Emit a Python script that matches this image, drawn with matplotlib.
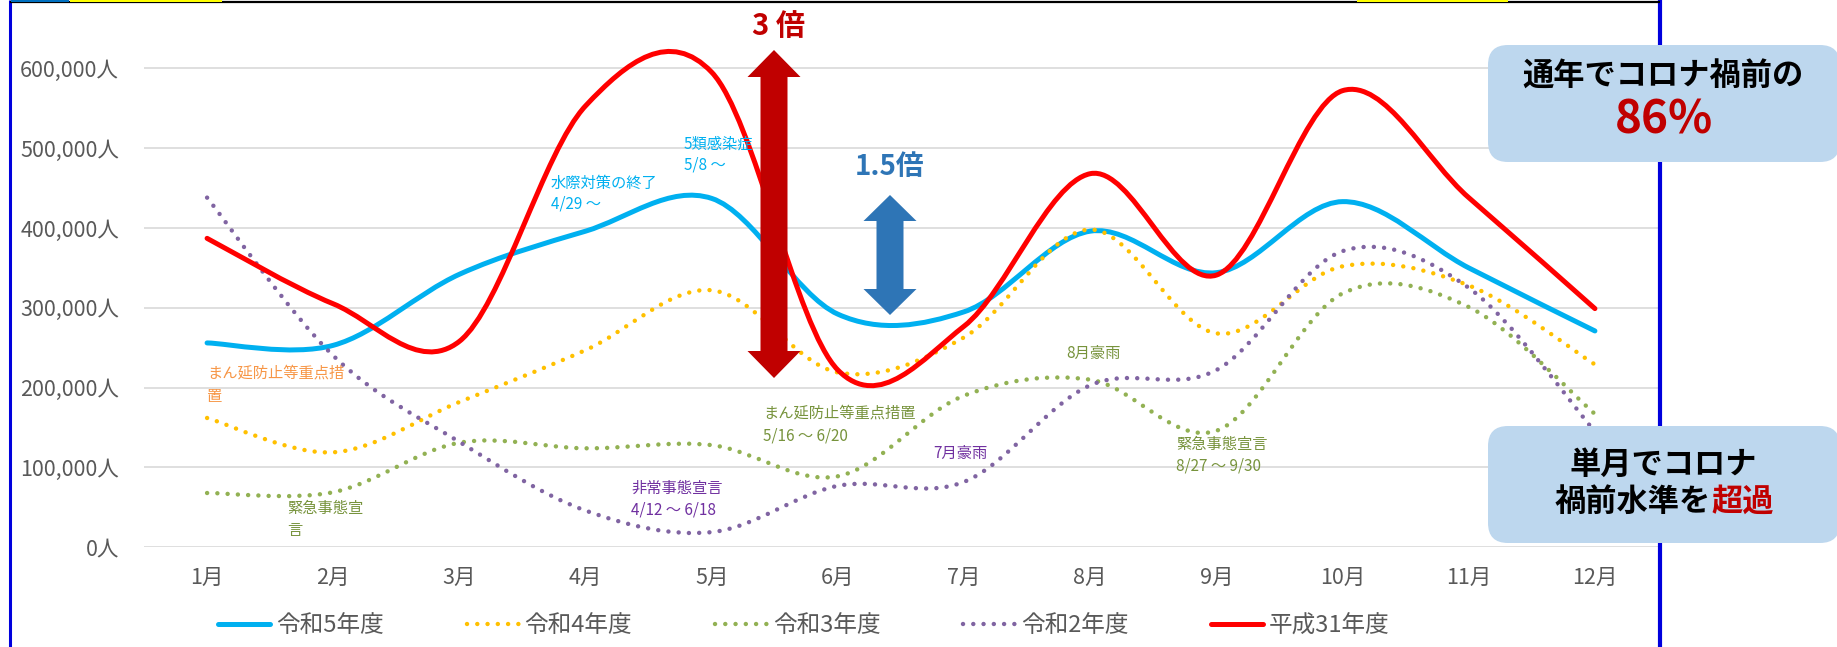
import matplotlib
matplotlib.use("Agg")
import matplotlib.pyplot as plt
import numpy as np
from matplotlib.path import Path
from matplotlib.patches import PathPatch, Polygon, FancyBboxPatch, Rectangle
from matplotlib.lines import Line2D

plt.rcParams['font.family'] = ['Noto Sans CJK JP', 'DejaVu Sans']

W, H = 1837, 647

months = ['1月', '2月', '3月', '4月', '5月', '6月', '7月', '8月', '9月', '10月', '11月', '12月']
yticks = [0, 100000, 200000, 300000, 400000, 500000, 600000]
ytick_labels = ['0人', '100,000人', '200,000人', '300,000人', '400,000人', '500,000人', '600,000人']

# monthly visitors per fiscal year
r5 = [256000, 253000, 342000, 396000, 437000, 292000, 295000, 396000, 344000, 433000, 350000, 271000]
r4 = [162000, 119000, 182000, 247000, 322000, 219000, 263000, 398000, 268000, 352000, 328000, 229000]
r3 = [68000, 69000, 131000, 124000, 128000, 89000, 190000, 210000, 146000, 318000, 301000, 167000]
r2 = [438000, 240000, 132000, 46000, 19000, 77000, 82000, 203000, 222000, 371000, 325000, 145000]
h31 = [387000, 305000, 258000, 553000, 595000, 222000, 277000, 468000, 341000, 572000, 438000, 299000]

names = ['令和5年度', '令和4年度', '令和3年度', '令和2年度', '平成31年度']
values = [r5, r4, r3, r2, h31]
colors = ['#00B0F0', '#FFC000', '#92B153', '#8064A2', '#FF0000']
dotted = [False, True, True, True, False]

GRAY = '#595959'
DOTS = (0, (0.01, 2.3))


def smooth_path(vals):
    # excel-like smoothed line: catmull-rom segments as cubic beziers
    pts = np.column_stack([np.arange(len(vals)), vals]).astype(float)
    n = len(pts)
    verts = [pts[0]]
    codes = [Path.MOVETO]
    for i in range(n - 1):
        p0 = pts[max(i - 1, 0)]
        p1 = pts[i]
        p2 = pts[i + 1]
        p3 = pts[min(i + 2, n - 1)]
        c1 = p1 + (p2 - p0) / 6
        c2 = p2 - (p3 - p1) / 6
        verts += [c1, c2, p2]
        codes += [Path.CURVE4] * 3
    return Path(np.array(verts), codes)


fig = plt.figure(figsize=(W / 100, H / 100), dpi=100)
y0, y600 = 547.3, 68.3
ppu = (y0 - y600) / 600000
ytop = y0 - 650000 * ppu
ax = fig.add_axes([144 / W, (H - y0) / H, (1658 - 144) / W, (y0 - ytop) / H])
ax.set_xlim(-0.5, 11.5)
ax.set_ylim(0, 650000)
for s in ax.spines.values():
    s.set_visible(False)
ax.set_yticks(yticks, ytick_labels)
ax.set_xticks(range(12), months)
ax.tick_params(length=0, labelcolor=GRAY, labelsize=15.5)
ax.tick_params(axis='y', pad=18)
ax.tick_params(axis='x', pad=14)
ax.yaxis.grid(True, color='#D9D9D9', linewidth=1.2)
ax.set_axisbelow(True)

handles = []
for k, (vals, c, dot) in enumerate(zip(values, colors, dotted)):
    ls = DOTS if dot else '-'
    lw = 3.2 if dot else 3.6
    patch = PathPatch(smooth_path(vals), fill=False, edgecolor=c, linewidth=lw,
                      linestyle=ls, capstyle='round', joinstyle='round', zorder=2 + k)
    ax.add_patch(patch)
    handles.append(Line2D([], [], color=c, linewidth=lw, linestyle=ls,
                          dash_capstyle='round', solid_capstyle='round'))

fig.legend(handles, names, loc='center', bbox_to_anchor=(804 / W, 1 - 626 / H), ncol=5,
           frameon=False, fontsize=17, handlelength=2.2, handletextpad=0.25,
           columnspacing=3.5, labelcolor=GRAY)

# overlay in pixel coordinates for decorations
ov = fig.add_axes([0, 0, 1, 1], zorder=5)
ov.set_xlim(0, W)
ov.set_ylim(H, 0)
ov.axis('off')

# sheet frame
ov.plot([10, 10], [0, H], color='#0000DD', lw=2.2, solid_capstyle='butt', zorder=1)
ov.plot([1660, 1660], [0, H], color='#0000DD', lw=3, solid_capstyle='butt', zorder=1)
ov.plot([10, 1660], [2, 2], color='black', lw=1.6, solid_capstyle='butt', zorder=1)
ov.add_patch(Rectangle((11, 0), 58, 2, color='#0070C0', lw=0, zorder=2))
ov.add_patch(Rectangle((70, 0), 152, 2, color='#FFFF00', lw=0, zorder=2))
ov.add_patch(Rectangle((1357, 0), 151, 2, color='#FFFF00', lw=0, zorder=2))


def double_arrow(cx, ty, by, hw, hl, sw, color):
    pts = [(cx, ty), (cx + hw, ty + hl), (cx + sw, ty + hl), (cx + sw, by - hl),
           (cx + hw, by - hl), (cx, by), (cx - hw, by - hl), (cx - sw, by - hl),
           (cx - sw, ty + hl), (cx - hw, ty + hl)]
    ov.add_patch(Polygon(pts, closed=True, color=color, lw=0, zorder=3))


double_arrow(774, 50, 378, 26.5, 27, 13.5, '#C00000')
double_arrow(890, 195, 315, 26.5, 26, 13.5, '#2E75B6')
ov.text(778, 26, '3 倍', ha='center', va='center', fontsize=21, fontweight='bold', color='#C00000')
ov.text(890, 167, '1.5倍', ha='center', va='center', fontsize=20, fontweight='bold', color='#2E75B6')

notes = [
    (551, 183, '水際対策の終了', '#00B0F0'),
    (551, 204, '4/29 ～', '#00B0F0'),
    (684, 144, '5類感染症', '#00B0F0'),
    (684, 165, '5/8 ～', '#00B0F0'),
    (207, 373, 'まん延防止等重点措', '#F79646'),
    (207, 396, '置', '#F79646'),
    (287, 508, '緊急事態宣', '#77933C'),
    (287, 530, '言', '#77933C'),
    (631, 488, '非常事態宣言', '#7030A0'),
    (631, 510, '4/12 ～ 6/18', '#7030A0'),
    (763, 413, 'まん延防止等重点措置', '#77933C'),
    (763, 436, '5/16 ～ 6/20', '#77933C'),
    (933, 453, '7月豪雨', '#7030A0'),
    (1066, 353, '8月豪雨', '#77933C'),
    (1176, 444, '緊急事態宣言', '#77933C'),
    (1176, 466, '8/27 ～ 9/30', '#77933C'),
]
for x, y, s, c in notes:
    ov.text(x, y, s, ha='left', va='center', fontsize=11, color=c, zorder=4)

# callout boxes (cover the frame line)
for top in (45, 426):
    ov.add_patch(FancyBboxPatch((1488, top), 352, 117, boxstyle='round,pad=0,rounding_size=20',
                                fc='#BDD7EE', ec='none', zorder=5))
ov.text(1663, 77, '通年でコロナ禍前の', ha='center', va='center', fontsize=22.5, fontweight='bold',
        color='black', zorder=6)
ov.text(1664, 121, '86%', ha='center', va='center', fontsize=33, fontweight='bold', color='#C00000', zorder=6)
ov.text(1663, 465, '単月でコロナ', ha='center', va='center', fontsize=22.5, fontweight='bold',
        color='black', zorder=6)
ov.text(1711, 502, '禍前水準を', ha='right', va='center', fontsize=22.5, fontweight='bold',
        color='black', zorder=6)
ov.text(1711, 502, '超過', ha='left', va='center', fontsize=22.5, fontweight='bold', color='#C00000', zorder=6)

fig.savefig('out.png', dpi=100)
